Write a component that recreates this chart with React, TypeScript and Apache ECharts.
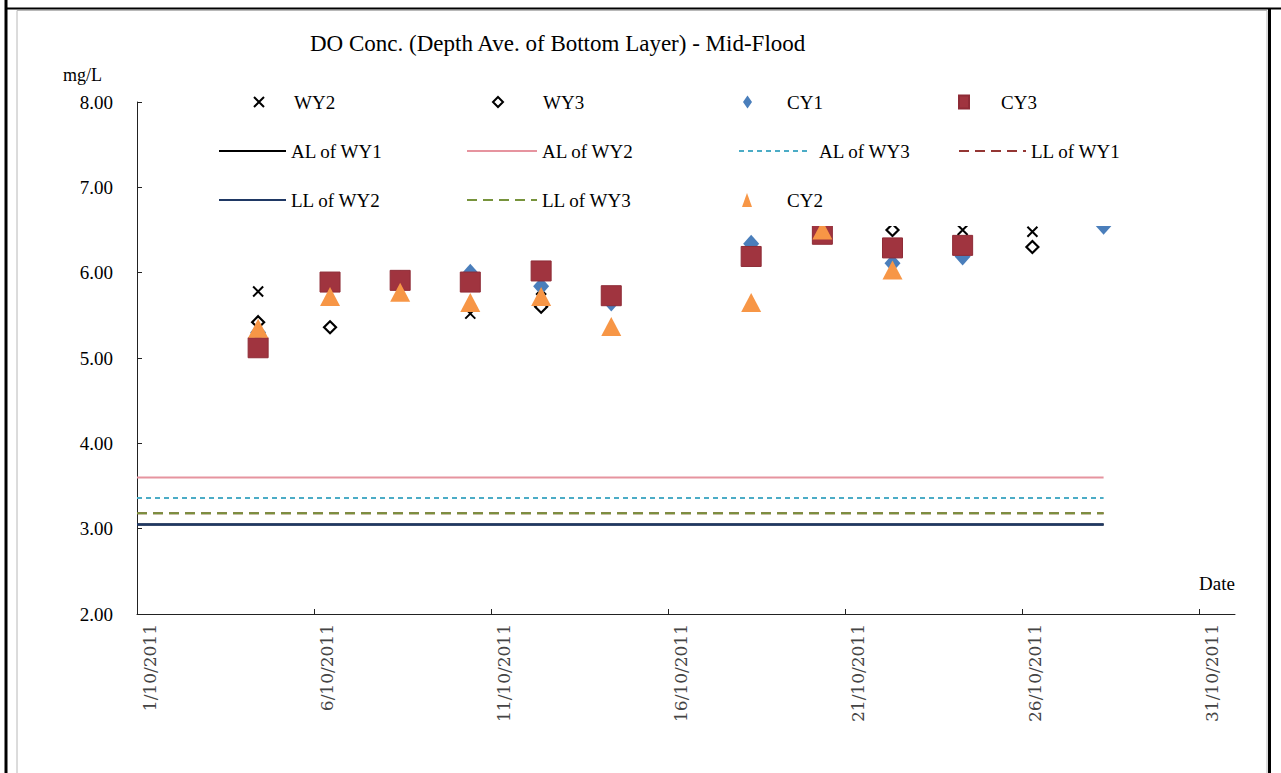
import React, { useEffect, useRef } from 'react';
import * as echarts from 'echarts';

// Sampling dates expressed as day-of-October 2011 (fractional day = time of sampling)
const sampleDays = [4.42, 6.45, 8.43, 10.41, 12.41, 14.39, 18.34, 20.35, 22.33, 24.31, 26.28, 28.29];

const wy2 = [5.78, 5.88, 5.9, 5.52, 5.8, 5.72, 6.2, 6.45, 6.3, 6.5, 6.48, null];
const wy3 = [5.42, 5.36, 5.88, 5.9, 5.6, 5.72, 6.2, 6.45, 6.5, 6.32, 6.3, null];
const cy1 = [5.3, 5.9, 5.92, 6.0, 5.84, 5.65, 6.34, 6.45, 6.11, 6.19, null, 6.55];
const cy3 = [5.12, 5.89, 5.91, 5.89, 6.02, 5.73, 6.19, 6.45, 6.29, 6.32, null, null];
const cy2 = [5.35, 5.72, 5.77, 5.65, 5.72, 5.37, 5.65, 6.5, 6.03, null, null, null];

const limitNames = ['AL of WY1', 'AL of WY2', 'AL of WY3', 'LL of WY1', 'LL of WY2', 'LL of WY3'];
const limitValues = [3.05, 3.6, 3.36, 3.18, 3.05, 3.18];
const limitStartDay = 1;

const xTickDays = [1, 6, 11, 16, 21, 26, 31];
const xTickLabels = ['1/10/2011', '6/10/2011', '11/10/2011', '16/10/2011', '21/10/2011', '26/10/2011', '31/10/2011'];
const yTicks = [2, 3, 4, 5, 6, 7, 8];

const legendRows = [
  ['WY2', 'WY3', 'CY1', 'CY3'],
  ['AL of WY1', 'AL of WY2', 'AL of WY3', 'LL of WY1'],
  ['LL of WY2', 'LL of WY3', 'CY2'],
];

// legend layout (left of icon, icon width/height, extra gap before text), per cell
const legendLayout = [
  [
    { left: 253, w: 10, h: 10, pad: 25 },
    { left: 492, w: 10, h: 10, pad: 35 },
    { left: 743, w: 9, h: 13, pad: 30 },
    { left: 958, w: 10, h: 13, pad: 27 },
  ],
  [
    { left: 218, w: 67, h: 12, pad: 0 },
    { left: 466, w: 70, h: 12, pad: 0 },
    { left: 738, w: 72, h: 12, pad: 3 },
    { left: 958, w: 67, h: 12, pad: 0 },
  ],
  [
    { left: 218, w: 67, h: 12, pad: 0 },
    { left: 466, w: 70, h: 12, pad: 0 },
    { left: 742, w: 10, h: 14, pad: 30 },
  ],
];
const legendRowCenter = [102, 151, 200];

const SERIF = '"Liberation Serif", "Times New Roman", serif';

export default function App() {
  const ref = useRef<HTMLDivElement>(null);

  useEffect(() => {
    if (!ref.current) return;
    const chart = echarts.init(ref.current, undefined, { renderer: 'svg' });

    const pts = (vals: (number | null)[]) =>
      sampleDays.map((d, i) => [d, vals[i]]).filter((p) => p[1] !== null);

    const lastDay = sampleDays[sampleDays.length - 1];

    const lineStyles: any[] = [
      { color: '#000000', width: 2, type: 'solid' },
      { color: '#E6949F', width: 2, type: 'solid' },
      { color: '#4BACC6', width: 2, type: [5, 4] },
      { color: '#943634', width: 2, type: [10, 6] },
      { color: '#1F3864', width: 2.5, type: 'solid' },
      { color: '#77933C', width: 2, type: [10, 6] },
    ];

    const lineSeries = limitNames.map((name, i) => ({
      name,
      type: 'line',
      symbol: 'none',
      showSymbol: false,
      data: [
        [limitStartDay, limitValues[i]],
        [lastDay, limitValues[i]],
      ],
      lineStyle: lineStyles[i],
      itemStyle: { color: lineStyles[i].color },
    }));

    const legends: any[] = [];
    legendRows.forEach((row, r) =>
      row.forEach((name, c) => {
        const L = legendLayout[r][c];
        const isLine = limitNames.indexOf(name) >= 0;
        const lg: any = {
          data: [name],
          left: L.left,
          top: legendRowCenter[r] - 11,
          padding: 0,
          itemWidth: L.w,
          itemHeight: L.h,
          itemGap: 5,
          selectedMode: false,
          textStyle: {
            fontFamily: SERIF,
            fontSize: 19,
            color: '#000',
            padding: [0, 0, 0, L.pad],
            lineHeight: 22,
          },
        };
        if (isLine) lg.itemStyle = { opacity: 0 };
        legends.push(lg);
      })
    );

    const option: any = {
      animation: false,
      backgroundColor: '#ffffff',
      title: {
        text: 'DO Conc. (Depth Ave. of Bottom Layer) - Mid-Flood',
        left: 310,
        top: 32,
        padding: 0,
        textStyle: { fontFamily: SERIF, fontSize: 23, fontWeight: 'normal', color: '#000' },
      },
      legend: legends,
      grid: { left: 137, right: 46, top: 102, bottom: 159, containLabel: false },
      xAxis: {
        type: 'value',
        min: 1,
        max: 32,
        splitLine: { show: false },
        axisLine: { lineStyle: { color: '#222', width: 1 } },
        axisTick: { show: true, inside: true, length: 5, customValues: xTickDays, lineStyle: { color: '#222' } },
        axisLabel: {
          customValues: xTickDays,
          rotate: 90,
          margin: 10,
          fontFamily: '"DejaVu Serif", serif',
          fontSize: 17,
          color: '#444',
          verticalAlign: 'top',
          padding: [4, 0, 0, 0],
          formatter: (v: number) => {
            const i = xTickDays.indexOf(Math.round(v));
            return i >= 0 ? xTickLabels[i] : '';
          },
        },
      },
      yAxis: {
        type: 'value',
        min: yTicks[0],
        max: yTicks[yTicks.length - 1],
        interval: 1,
        splitLine: { show: false },
        axisLine: { show: true, lineStyle: { color: '#222', width: 1 } },
        axisTick: { show: true, inside: true, length: 5, lineStyle: { color: '#222' } },
        axisLabel: {
          margin: 24,
          fontFamily: SERIF,
          fontSize: 19,
          color: '#000',
          formatter: (v: number) => v.toFixed(2),
        },
      },
      graphic: [
        { type: 'rect', z: 3, shape: { x: 205, y: 78, width: 960, height: 148 }, style: { fill: '#ffffff' } },
        { type: 'rect', z: 1, shape: { x: 17, y: 10.5, width: 1250, height: 780 }, style: { fill: 'none', stroke: '#b8b8b8', lineWidth: 1 } },
        { type: 'line', z: 10, shape: { x1: 6, y1: 0, x2: 6, y2: 773 }, style: { stroke: '#000', lineWidth: 3 } },
        { type: 'line', z: 10, shape: { x1: 5, y1: 8.5, x2: 1281, y2: 8.5 }, style: { stroke: '#000', lineWidth: 2 } },
        { type: 'line', z: 10, shape: { x1: 1269.5, y1: 8, x2: 1269.5, y2: 773 }, style: { stroke: '#000', lineWidth: 3 } },
        { type: 'text', z: 5, x: 63, y: 66, style: { text: 'mg/L', font: `18px ${SERIF}`, fill: '#000' } },
        { type: 'text', z: 5, x: 1199, y: 574, style: { text: 'Date', font: `19px ${SERIF}`, fill: '#000' } },
      ],
      series: [
        {
          name: 'WY2',
          type: 'scatter',
          symbol: 'path://M0,0L10,10M10,0L0,10',
          symbolSize: 10,
          data: pts(wy2),
          itemStyle: { color: 'rgba(0,0,0,0)', borderColor: '#000', borderWidth: 2, opacity: 1 },
        },
        {
          name: 'WY3',
          type: 'scatter',
          symbol: 'diamond',
          symbolSize: 12,
          data: pts(wy3),
          itemStyle: { color: '#ffffff', borderColor: '#000', borderWidth: 2.2, opacity: 1 },
        },
        {
          name: 'CY1',
          type: 'scatter',
          symbol: 'diamond',
          symbolSize: [16, 18],
          data: pts(cy1),
          itemStyle: { color: '#4A7EBB', opacity: 1 },
        },
        {
          name: 'CY3',
          type: 'scatter',
          symbol: 'rect',
          symbolSize: 20,
          data: pts(cy3),
          itemStyle: { color: '#A0343F', borderColor: '#8E2B36', borderWidth: 1, opacity: 1 },
        },
        ...lineSeries,
        {
          name: 'CY2',
          type: 'scatter',
          symbol: 'triangle',
          symbolSize: [20, 19],
          data: pts(cy2),
          itemStyle: { color: '#F79646', opacity: 1 },
        },
      ],
    };

    chart.setOption(option);
    return () => chart.dispose();
  }, []);

  return (
    <div
      ref={ref}
      style={{ position: 'fixed', left: 0, top: 0, width: 1281, height: 773, background: '#fff' }}
    />
  );
}
